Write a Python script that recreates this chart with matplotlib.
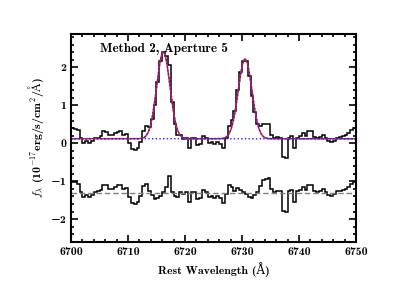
import numpy as np
import matplotlib
matplotlib.use("Agg")
import matplotlib.pyplot as plt
from matplotlib.ticker import MultipleLocator

plt.rcParams['font.family'] = ['cmb10', 'DejaVu Serif']
plt.rcParams['mathtext.fontset'] = 'cm'
plt.rcParams['axes.formatter.use_mathtext'] = False

# wavelength bin edges (Angstrom)
wave_start = 6700.0
bin_width = 0.5
n_bins = 100

# residual (data - model) per bin
residual = [
    0.29, 0.27, 0.23, 0.01, -0.12, -0.06, -0.12, -0.06, 0.01, 0.03,
    0.08, 0.20, 0.19, 0.10, 0.10, 0.16, 0.19, 0.21, 0.10, 0.12,
    -0.12, -0.27, -0.29, -0.25, -0.10,
    0.17, 0.23, 0.05, -0.06, -0.17, -0.15, -0.08, 0.01, 0.15, 0.43,
    0.02, -0.10, -0.12, 0.01, -0.03, 0.01, -0.25, 0.02, 0.01, -0.17,
    -0.15, 0.08, 0.01, -0.12, -0.08,
    -0.15, -0.09, -0.15, -0.27, -0.03, 0.19, 0.15, 0.05, 0.11, 0.08,
    0.01, -0.03, -0.11, -0.15, -0.06, 0.01, 0.17, 0.32, 0.36, 0.38,
    0.10, 0.01, 0.05, 0.03, -0.48,
    -0.50, 0.03, 0.06, -0.25, 0.03, 0.08, 0.14, 0.08, 0.21, 0.21,
    0.05, 0.01, 0.05, 0.10, 0.01, -0.06, -0.09, -0.05, 0.03, 0.05,
    0.08, 0.10, 0.14, 0.23, 0.29,
]

# Gaussian fit parameters ([SII] doublet)
continuum = 0.12
line_centers = [6716.2, 6730.55]
line_amps = [2.28, 2.10]
line_sigmas = [1.17, 1.2]
resid_offset = -1.3


def gauss(x, a, c, s):
    return a * np.exp(-0.5 * ((x - c) / s) ** 2)


edges = wave_start + bin_width * np.arange(n_bins + 1)
centers = 0.5 * (edges[:-1] + edges[1:])
model_bins = continuum + sum(gauss(centers, a, c, s)
                             for a, c, s in zip(line_amps, line_centers, line_sigmas))
flux = model_bins + np.array(residual)

xf = np.linspace(6700, 6750, 2000)
comps = [continuum + gauss(xf, a, c, s) for a, c, s in zip(line_amps, line_centers, line_sigmas)]
model = continuum + sum(gauss(xf, a, c, s) for a, c, s in zip(line_amps, line_centers, line_sigmas))

fig = plt.figure(figsize=(3.99, 2.99), dpi=100)
ax = fig.add_axes([0.178, 0.191, 0.714, 0.695])

ax.stairs(flux, edges, color='black', lw=1.1, baseline=None)
ax.stairs(np.array(residual) + resid_offset, edges, color='black', lw=1.1, baseline=None)
ax.axhline(resid_offset, color='gray', ls='--', lw=1.0, dashes=(4, 2))
ax.plot(xf, model, color='#e0202a', lw=1.1)
for comp in comps:
    ax.plot(xf, comp, color='#2020ff', ls=':', lw=1.0)

ax.set_xlim(6700, 6750)
ax.set_ylim(-2.6, 2.88)
ax.xaxis.set_major_locator(MultipleLocator(10))
ax.xaxis.set_minor_locator(MultipleLocator(2))
ax.yaxis.set_major_locator(MultipleLocator(1))
ax.yaxis.set_minor_locator(MultipleLocator(0.2))
ax.tick_params(which='both', direction='in', top=True, right=True, width=1.2)
ax.tick_params(which='major', length=5, labelsize=8.5)
ax.tick_params(which='minor', length=2.5)
for sp in ax.spines.values():
    sp.set_linewidth(1.5)

ax.set_xlabel('Rest Wavelength (Å)', fontsize=8.5, labelpad=4)
ax.set_ylabel(r'$f_\lambda$ (10$^{-17}$erg/s/cm$^2$/$\mathrm{\AA}$)', fontsize=8.5, labelpad=3)
ax.text(0.10, 0.93, 'Method 2, Aperture 5', transform=ax.transAxes,
        fontsize=9.5, va='center', ha='left')

fig.savefig('out.png', dpi=100)
